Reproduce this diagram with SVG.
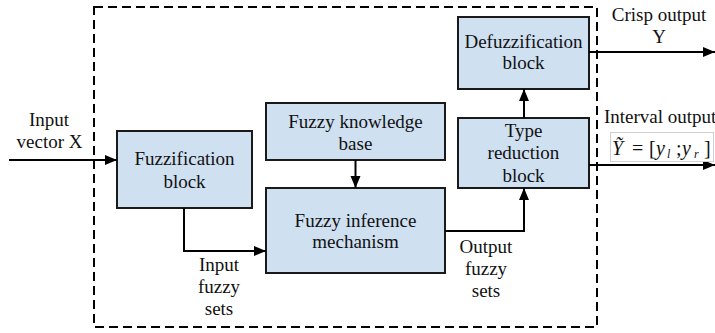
<svg xmlns="http://www.w3.org/2000/svg" width="715" height="333" viewBox="0 0 715 333">
<defs>
<marker id="arr" markerUnits="userSpaceOnUse" markerWidth="13" markerHeight="11" refX="12" refY="5" orient="auto">
<path d="M0,0 L12,5 L0,10 z" fill="#000"/>
</marker>
<style>
.blk{fill:#cfe0f1;stroke:#1a1a1a;stroke-width:2}
.t{font-family:"Liberation Serif","Times New Roman",serif;font-size:19px;fill:#111;text-anchor:middle}
.tl{font-family:"Liberation Serif","Times New Roman",serif;font-size:19px;fill:#111}
.c{fill:none;stroke:#000;stroke-width:2}
.m{font-family:"Liberation Serif","Times New Roman",serif;font-style:italic;fill:#111}
.r{font-family:"Liberation Serif","Times New Roman",serif;fill:#111}
</style>
</defs>
<rect x="0" y="0" width="715" height="333" fill="#fff"/>
<rect x="94" y="7" width="503" height="320" fill="none" stroke="#000" stroke-width="2" stroke-dasharray="9,5"/>

<g id="fuzzification">
<rect class="blk" x="117" y="131" width="135" height="77"/>
<text class="t" x="184.5" y="165">Fuzzification</text>
<text class="t" x="184.5" y="188">block</text>
</g>
<g id="knowledge-base">
<rect class="blk" x="266" y="103" width="179" height="57"/>
<text class="t" x="355.5" y="128">Fuzzy knowledge</text>
<text class="t" x="355.5" y="150">base</text>
</g>
<g id="inference">
<rect class="blk" x="266" y="188" width="179" height="85"/>
<text class="t" x="355.5" y="227">Fuzzy inference</text>
<text class="t" x="355.5" y="248">mechanism</text>
</g>
<g id="defuzzification">
<rect class="blk" x="458" y="17" width="131" height="72"/>
<text class="t" x="523.5" y="48">Defuzzification</text>
<text class="t" x="523.5" y="69">block</text>
</g>
<g id="type-reduction">
<rect class="blk" x="458" y="118" width="131" height="70"/>
<text class="t" x="523.5" y="137">Type</text>
<text class="t" x="523.5" y="159">reduction</text>
<text class="t" x="523.5" y="182">block</text>
</g>

<g id="connectors">
<path class="c" d="M9,160 H117" marker-end="url(#arr)"/>
<path class="c" d="M184,208 V251 H266" marker-end="url(#arr)"/>
<path class="c" d="M355.5,160 V188" marker-end="url(#arr)"/>
<path class="c" d="M445,231 H524 V188" marker-end="url(#arr)"/>
<path class="c" d="M524,118 V89" marker-end="url(#arr)"/>
<path class="c" d="M589,52 H715" marker-end="url(#arr)"/>
<path class="c" d="M589,165 H715" marker-end="url(#arr)"/>
</g>

<g id="labels">
<text class="t" x="49" y="126">Input</text>
<text class="t" x="49.5" y="148">vector X</text>
<text class="t" x="219" y="271">Input</text>
<text class="t" x="219" y="293">fuzzy</text>
<text class="t" x="219" y="315">sets</text>
<text class="t" x="486" y="253">Output</text>
<text class="t" x="486" y="275">fuzzy</text>
<text class="t" x="486" y="297">sets</text>
<text class="t" x="659" y="21">Crisp output</text>
<text class="t" x="659" y="43">Y</text>
<text class="tl" x="604" y="123">Interval output</text>
</g>
<g id="formula">
<rect x="610.5" y="132.5" width="103" height="29" fill="#fff" stroke="#d0d0d0" stroke-width="1"/>
<text class="m" x="612" y="155" font-size="20">Ỹ</text>
<text class="r" x="632" y="155" font-size="20">=</text>
<text class="r" x="649" y="155" font-size="20">[</text>
<text class="m" x="656" y="155" font-size="20">y</text>
<text class="m" x="667" y="158" font-size="12">l</text>
<text class="r" x="676" y="155" font-size="20">;</text>
<text class="m" x="682" y="155" font-size="20">y</text>
<text class="m" x="694" y="158" font-size="12">r</text>
<text class="r" x="704" y="155" font-size="20">]</text>
</g>
</svg>
